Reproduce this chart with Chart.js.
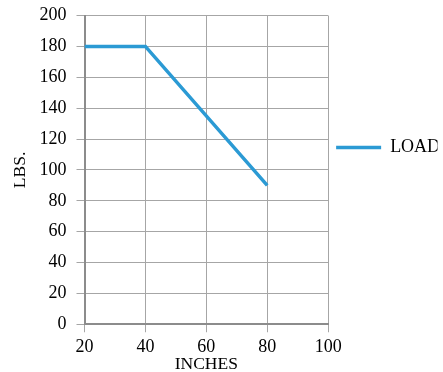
<!DOCTYPE html>
<html>
<head>
<meta charset="utf-8">
<script src="https://cdn.jsdelivr.net/npm/chart.js@4"></script>
<style>
  body { margin: 0; background: #fff; }
  #wrap { width: 443px; height: 372px; }
</style>
</head>
<body>
<div id="wrap"><canvas id="chart1"></canvas></div>
<script>
// data
const inches = [20, 40, 80];
const load = [180, 180, 90];
const seriesName = 'LOAD';
const xTitle = 'INCHES';
const yTitle = 'LBS.';

const points = inches.map(function (x, i) { return { x: x, y: load[i] }; });

Chart.defaults.font.family = '"Liberation Serif", "Times New Roman", serif';
Chart.defaults.font.size = 18;
Chart.defaults.color = '#000';

const gridStyle = {
  color: '#a6a6a6',
  lineWidth: 1,
  drawTicks: true,
  tickLength: 8
};

new Chart(document.getElementById('chart1'), {
  type: 'line',
  data: {
    datasets: [{
      label: seriesName,
      data: points,
      borderColor: '#2b9ad4',
      backgroundColor: '#2b9ad4',
      borderWidth: 3.5,
      pointRadius: 0,
      fill: false,
      tension: 0
    }]
  },
  options: {
    responsive: true,
    maintainAspectRatio: false,
    animation: false,
    // legend box is capped at 110px wide, its text runs into this padding
    layout: { padding: { top: 0, right: 5.5, left: 0, bottom: 0 } },
    scales: {
      x: {
        type: 'linear',
        min: 20,
        max: 100,
        ticks: { stepSize: 20, padding: 6, font: { size: 18, lineHeight: 1.0 } },
        grid: gridStyle,
        border: { color: '#8c8c8c', width: 2 },
        // ticks padding is counted twice by chart.js, pull the title back up
        title: { display: true, text: xTitle, padding: { top: -6, bottom: 0 }, font: { size: 17.5, lineHeight: 0.9 } }
      },
      y: {
        min: 0,
        max: 200,
        ticks: { stepSize: 20, padding: 10, font: { size: 18, lineHeight: 0.62 } },
        grid: gridStyle,
        border: { color: '#8c8c8c', width: 2 },
        title: { display: true, text: yTitle, padding: { top: 12, bottom: 0 }, font: { size: 17.5, lineHeight: 1.0 } }
      }
    },
    plugins: {
      legend: {
        position: 'right',
        align: 'start',
        // blank title only pushes the single entry down to where it sits in the picture
        title: { display: true, text: ' ', padding: { top: 0, bottom: 109 } },
        labels: {
          usePointStyle: true,
          pointStyle: 'line',
          pointStyleWidth: 45,
          padding: 8,
          font: { size: 18 }
        }
      },
      tooltip: { enabled: false }
    }
  }
});
</script>
</body>
</html>
